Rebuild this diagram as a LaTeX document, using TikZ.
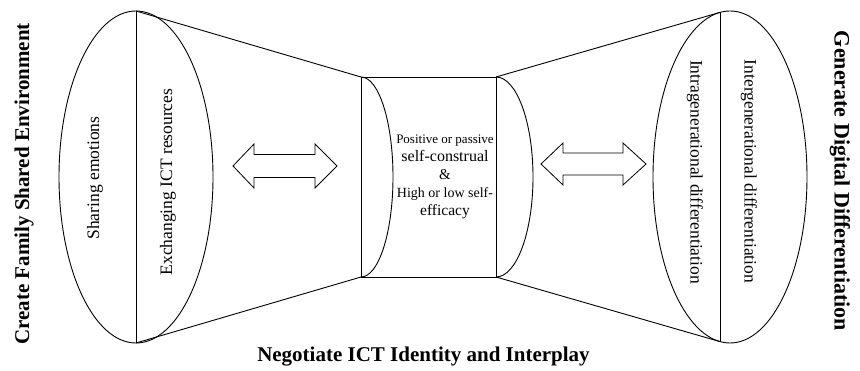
\documentclass[tikz,border=0pt]{standalone}
\usepackage{fontspec}
\setmainfont{Liberation Serif}
\begin{document}
\begin{tikzpicture}[x=1pt,y=1pt,line width=0.9pt,
  lbl/.style={inner sep=0pt,font=\fontsize{17.5}{20}\selectfont},
  ttl/.style={inner sep=0pt,font=\fontsize{21}{24}\selectfont\bfseries},
  dblarrow/.style={draw=black,line width=0.8pt,line join=miter,fill=white}]
\useasboundingbox (0,0) rectangle (860,371);
% key points
\coordinate (LT) at (136,360);
\coordinate (LB) at (136,28);
\coordinate (CTL) at (361,294);
\coordinate (CBL) at (361,94);
\coordinate (CTR) at (496,294);
\coordinate (CBR) at (496,94);
\coordinate (RT) at (720,358.6);
\coordinate (RB) at (720,29.4);
% left ellipse
\draw (136,194) ellipse[x radius=77,y radius=166];
\draw (LT) -- (LB);
\draw (LT) -- (CTL);
\draw (LB) -- (CBL);
% centre box
\draw (CTL) rectangle (CBR);
\draw (CTL) arc[start angle=90,end angle=-90,x radius=32,y radius=100];
\draw (CTR) arc[start angle=90,end angle=-90,x radius=37,y radius=100];
% right ellipse
\draw (CTR) -- (RT);
\draw (CBR) -- (RB);
\draw (730,194) ellipse[x radius=77,y radius=166];
\draw (RT) -- (RB);
% double arrows
\draw[dblarrow] (233,205) -- (254,227) -- (254,216.5) -- (315,216.5) -- (315,227) -- (337,205)
  -- (315,183) -- (315,193.5) -- (254,193.5) -- (254,183) -- cycle;
\draw[dblarrow] (541,207) -- (563,228) -- (563,218) -- (623,218) -- (623,228) -- (646,207)
  -- (623,186) -- (623,196) -- (563,196) -- (563,186) -- cycle;
% texts
\node[lbl,rotate=90] (share) at (95,193) {Sharing emotions};
\node[lbl,rotate=90] (exch) at (168,189) {Exchanging ICT resources};
\node[lbl,rotate=-90] (inter) at (749,199.5) {Intergenerational differentiation};
\node[lbl,rotate=-90] (intra) at (695,199) {Intragenerational differentiation};
\node[inner sep=0pt,align=center,font=\fontsize{15}{18}\selectfont] (mid) at (445,194)
  {{\fontsize{13}{18}\selectfont Positive or passive}\\
   {\fontsize{16}{18}\selectfont self-construal}\\
   \&\\
   {\fontsize{14}{18}\selectfont High or low self-}\\
   {\fontsize{15.5}{18}\selectfont efficacy}};
\node[ttl,rotate=90] (tleft) at (24,187) {Create Family Shared Environment};
\node[ttl,rotate=-90,font=\fontsize{22}{24}\selectfont\bfseries] (tright) at (840,190) {Generate Digital Differentiation};
\node[ttl] (tbottom) at (423.5,14) {Negotiate ICT Identity and Interplay};
\end{tikzpicture}
\end{document}
